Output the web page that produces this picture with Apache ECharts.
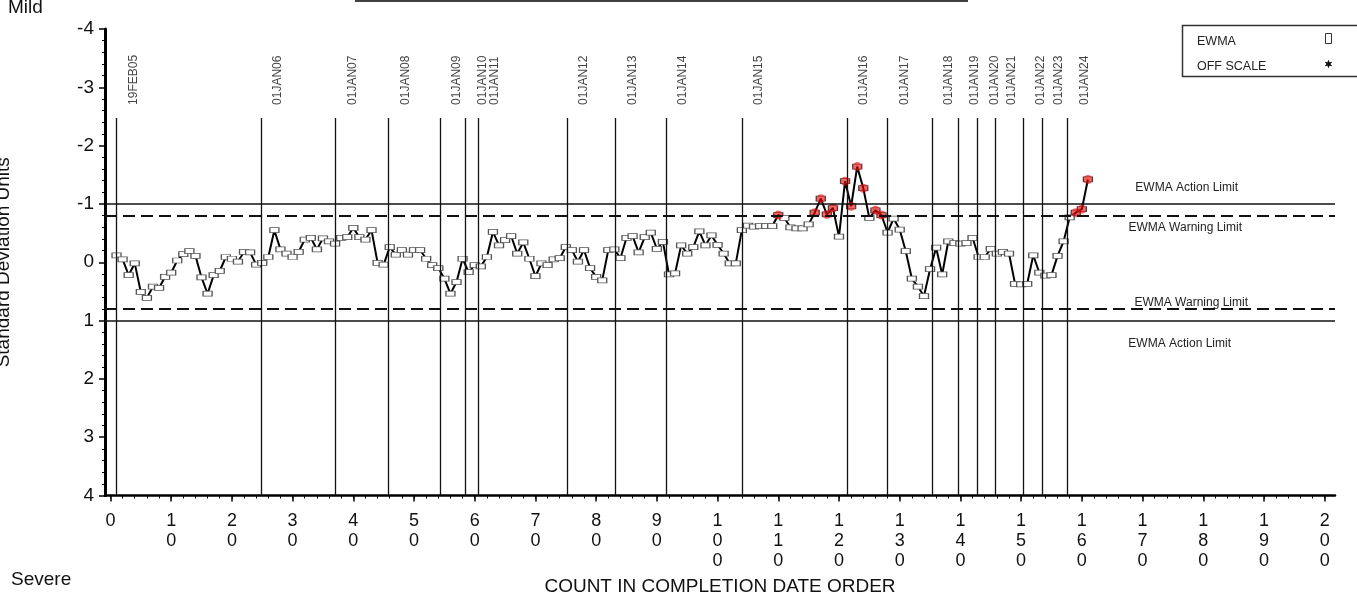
<!DOCTYPE html>
<html><head><meta charset="utf-8">
<script src="https://cdn.jsdelivr.net/npm/echarts@6/dist/echarts.min.js"></script>
<style>html,body{margin:0;padding:0;background:#fff}#c{width:1357px;height:592px}</style>
</head><body><div id="c"></div>
<script>
// EWMA values (standard deviation units), one per count 1..161
const ewmaValues = [
 -0.12,-0.05,0.22,0.02,0.51,0.61,0.42,0.44,0.25,0.18,
 -0.03,-0.14,-0.19,-0.11,0.26,0.54,0.22,0.15,-0.09,-0.06,
 -0.01,-0.18,-0.17,0.04,0.01,-0.09,-0.55,-0.22,-0.15,-0.09,
 -0.18,-0.39,-0.42,-0.22,-0.41,-0.36,-0.32,-0.42,-0.43,-0.59,
 -0.43,-0.39,-0.55,0.01,0.04,-0.26,-0.13,-0.21,-0.13,-0.21,
 -0.21,-0.06,0.05,0.10,0.28,0.54,0.34,-0.06,0.17,0.05,
 0.07,-0.09,-0.52,-0.29,-0.38,-0.45,-0.15,-0.34,-0.06,0.24,
 0.02,0.05,-0.05,-0.07,-0.26,-0.21,-0.01,-0.21,0.10,0.25,
 0.31,-0.21,-0.22,-0.07,-0.42,-0.45,-0.17,-0.43,-0.51,-0.23,
 -0.35,0.21,0.19,-0.29,-0.15,-0.26,-0.53,-0.29,-0.46,-0.30,
 -0.15,0.02,0.02,-0.55,-0.63,-0.61,-0.62,-0.62,-0.62,-0.81,
 -0.76,-0.60,-0.58,-0.58,-0.65,-0.85,-1.09,-0.82,-0.93,-0.44,
 -1.39,-0.96,-1.64,-1.27,-0.76,-0.89,-0.81,-0.51,-0.75,-0.56,
 -0.19,0.28,0.42,0.58,0.12,-0.25,0.21,-0.36,-0.33,-0.32,
 -0.33,-0.42,-0.09,-0.09,-0.23,-0.15,-0.18,-0.15,0.37,0.38,
 0.37,-0.12,0.18,0.23,0.22,-0.11,-0.36,-0.77,-0.85,-0.91,
 -1.42
];
// Year boundary markers (in count units) and their labels
const yearPositions = [1.0,24.8,37.1,45.8,54.3,58.5,60.5,75.2,83.2,91.5,104.0,121.3,128.0,135.3,139.6,142.8,145.7,150.4,153.4,157.6];
const yearLabels = ['19FEB05','01JAN06','01JAN07','01JAN08','01JAN09','01JAN10','01JAN11','01JAN12','01JAN13','01JAN14','01JAN15','01JAN16','01JAN17','01JAN18','01JAN19','01JAN20','01JAN21','01JAN22','01JAN23','01JAN24'];
const yearMarkerTop = -2.475;
// Control limits
const limitValues = [-1, -0.8, 0.8, 1];
const limitNames = ['EWMA Action Limit','EWMA Warning Limit','EWMA Warning Limit','EWMA Action Limit'];
const limitKinds = ['action','warning','warning','action'];
// X tick labels
const xTickValues = [0,10,20,30,40,50,60,70,80,90,100,110,120,130,140,150,160,170,180,190,200];

const FONT = 'Liberation Sans, Arial, sans-serif';
const isFlagged = v => v <= limitValues[1] - 0.005;
const points = ewmaValues.map((v,i)=>[i+1, v]);
const lineData = points.map(p => isFlagged(p[1])
  ? {value:p, itemStyle:{color:'rgba(255,255,255,0)', borderColor:'#444'}}
  : {value:p});
const flagged = points.filter(p => isFlagged(p[1]));
const minorX = [];
for (let v = 0; v <= 200; v += 2) minorX.push(v);

const limitPos = [
  {position:'insideEndTop', distance:10},
  {position:'insideEndBottom', distance:6},
  {position:'insideEndTop', distance:0},
  {position:'insideEndBottom', distance:17}
];

function starPoints(cx, cy, r1, r2, n){
  const pts=[];
  for(let k=0;k<2*n;k++){
    const r = k%2===0 ? r1 : r2;
    const a = Math.PI*k/n - Math.PI/2;
    pts.push([cx + r*Math.cos(a), cy + r*Math.sin(a)]);
  }
  return pts;
}

const chart = echarts.init(document.getElementById('c'), null, {renderer:'canvas'});
chart.setOption({
  animation:false,
  backgroundColor:'#fff',
  grid:{left:105, right:22, top:29, bottom:96.5, containLabel:false, outerBoundsMode:'none'},
  xAxis:[{
    type:'value', min:-0.9, max:201.7,
    name:'COUNT IN COMPLETION DATE ORDER', nameLocation:'middle', nameGap:82,
    nameTextStyle:{fontFamily:FONT, fontSize:19, color:'#111'},
    axisLine:{show:true, onZero:false, lineStyle:{color:'#000', width:2.5}},
    axisTick:{show:true, length:6, customValues:xTickValues, lineStyle:{color:'#000', width:1.5}},
    axisLabel:{show:true, customValues:xTickValues, margin:16, fontFamily:FONT, fontSize:18, lineHeight:20, color:'#111',
      formatter: v => String(v).split('').join('\n')},
    splitLine:{show:false}
  },{
    type:'value', min:-0.9, max:201.7, position:'bottom',
    axisLine:{show:false, onZero:false},
    axisTick:{show:true, length:3, customValues:minorX, lineStyle:{color:'#000', width:1}},
    axisLabel:{show:false}, splitLine:{show:false}
  }],
  yAxis:{
    type:'value', min:-4, max:4, interval:1, inverse:true,
    name:'Standard Deviation Units', nameLocation:'middle', nameGap:91.5,
    nameTextStyle:{fontFamily:FONT, fontSize:19, color:'#111'},
    axisLine:{show:true, onZero:false, lineStyle:{color:'#000', width:3}},
    axisTick:{show:true, length:6, lineStyle:{color:'#000', width:1.5}},
    minorTick:{show:true, splitNumber:5, length:3, lineStyle:{color:'#000', width:1}},
    axisLabel:{margin:11, fontFamily:FONT, fontSize:19, color:'#111'},
    splitLine:{show:false}
  },
  series:[
    {
      type:'scatter', name:'years', z:1, silent:true,
      data: yearPositions.map(x=>[x, yearMarkerTop]),
      symbolSize:0,
      label:{show:true, formatter: p => yearLabels[p.dataIndex], position:[17,-13], rotate:90,
        align:'left', verticalAlign:'middle', fontFamily:FONT, fontSize:12, color:'#111'},
      markLine:{silent:true, symbol:'none', animation:false,
        lineStyle:{color:'#111', width:1.3, type:'solid'}, label:{show:false},
        data: yearPositions.map(x=>[{coord:[x, yearMarkerTop]},{coord:[x, 4]}])}
    },
    {
      type:'line', name:'EWMA', z:3,
      data: lineData,
      symbol:'rect', symbolSize:[9,5], showAllSymbol:true,
      itemStyle:{color:'#fff', borderColor:'#555', borderWidth:1},
      lineStyle:{color:'#000', width:2},
      markLine:{silent:true, symbol:'none', animation:false,
        data: limitValues.map((v,k)=>({
          yAxis:v,
          lineStyle:{color:'#111', width: limitKinds[k]==='warning'?2:1.5, type: limitKinds[k]==='warning'?[12,6]:'solid'},
          label:{show:true, formatter:limitNames[k], position:limitPos[k].position, distance:limitPos[k].distance,
            padding:[0,87,0,0], fontFamily:FONT, fontSize:12, color:'#222'}
        }))}
    },
    {
      type:'scatter', name:'flagged', z:4, silent:true,
      data: flagged, symbol:'circle', symbolSize:9,
      itemStyle:{color:'rgba(235,0,0,0.75)'}
    }
  ],
  graphic:[
    {type:'line', shape:{x1:355,y1:1,x2:968,y2:1}, style:{stroke:'#000', lineWidth:1.5}},
    {type:'text', x:8, y:8, style:{text:'Mild', fontFamily:FONT, fontSize:19, fill:'#111', verticalAlign:'middle'}},
    {type:'text', x:11, y:580, style:{text:'Severe', fontFamily:FONT, fontSize:19, fill:'#111', verticalAlign:'middle'}},
    {type:'rect', shape:{x:1182.5, y:25.5, width:180, height:51}, style:{fill:'#fff', stroke:'#333', lineWidth:1.5}},
    {type:'text', x:1197, y:42, style:{text:'EWMA', fontFamily:FONT, fontSize:12.5, fill:'#222', verticalAlign:'middle'}},
    {type:'text', x:1197, y:67, style:{text:'OFF SCALE', fontFamily:FONT, fontSize:12.5, fill:'#222', verticalAlign:'middle'}},
    {type:'rect', shape:{x:1325.5, y:33.5, width:6, height:10}, style:{fill:'#fff', stroke:'#333', lineWidth:1}},
    {type:'polygon', shape:{points:starPoints(1328.5, 64, 4.5, 2, 6)}, style:{fill:'#111'}}
  ]
});
</script></body></html>
